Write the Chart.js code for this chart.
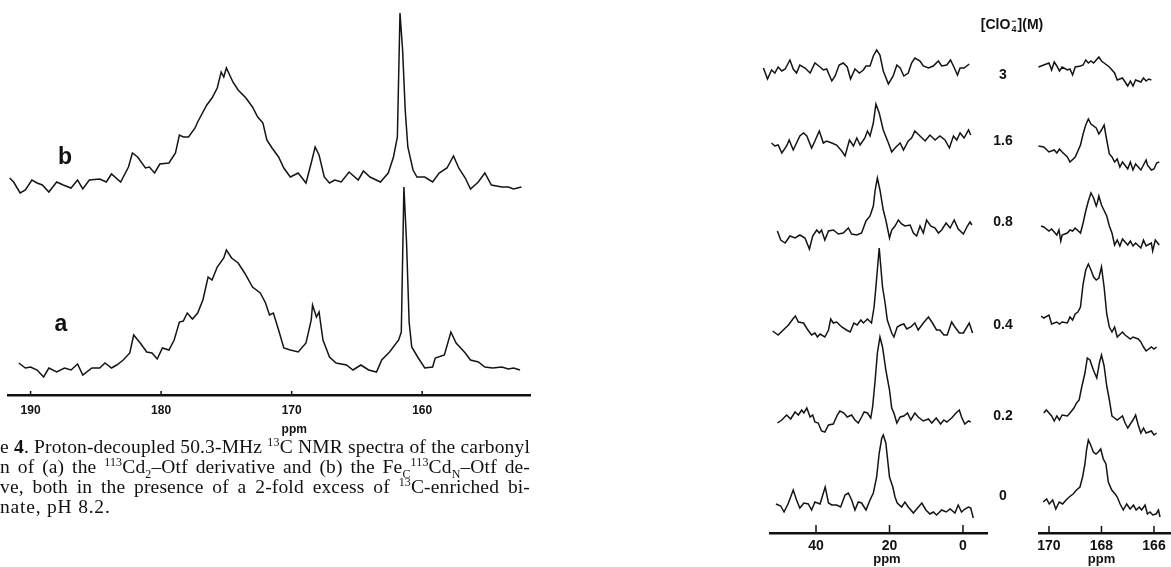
<!DOCTYPE html>
<html>
<head>
<meta charset="utf-8">
<title>13C NMR spectra</title>
<script src="https://cdn.jsdelivr.net/npm/chart.js@4.4.1/dist/chart.umd.min.js"></script>
<style>
  body { margin: 0; background: #fff; }
  #page { position: relative; width: 1171px; height: 567px; overflow: hidden; background: #fff; color: #111; }
  canvas { position: absolute; top: 0; }
  .tag { position: absolute; font: bold 23px "Liberation Sans", Arial, sans-serif; transform: translate(-50%, -50%); }
  .conc { position: absolute; font: bold 14px "Liberation Sans", Arial, sans-serif; transform: translate(-50%, -50%); white-space: nowrap; }
  .ion { display: inline-block; font-size: 9px; line-height: 8px; vertical-align: -3px; text-align: center; margin: 0 1px; }
  #caption { position: absolute; left: 0; top: 437px; width: 530px; font: 19.5px/20px "Liberation Serif", "Times New Roman", serif; letter-spacing: 0.15px; color: #111; }
  #caption div { text-align: justify; text-align-last: justify; white-space: nowrap; }
  #caption div.last { text-align-last: left; letter-spacing: 0.8px; }
  #caption sup, #caption sub { font-size: 12px; line-height: 0; }
</style>
</head>
<body>
<div id="page">
  <canvas id="leftChart" width="560" height="440" style="left:0px"></canvas>
  <canvas id="lowChart" width="260" height="567" style="left:740px"></canvas>
  <canvas id="highChart" width="151" height="567" style="left:1020px"></canvas>
  <div class="tag" style="left:65px; top:156px">b</div>
  <div class="tag" style="left:61px; top:323px">a</div>
  <div class="conc" style="left:1012px; top:24px">[ClO<span class="ion">&minus;<br>4</span>](M)</div>
  <div id="concLabels"></div>
  <div id="caption">
    <div>e <b>4</b>. Proton-decoupled 50.3-MHz <sup>13</sup>C NMR spectra of the carbonyl</div>
    <div>n of (a) the <sup>113</sup>Cd<sub>2</sub>&ndash;Otf derivative and (b) the Fe<sub>C</sub><sup>113</sup>Cd<sub>N</sub>&ndash;Otf de-</div>
    <div>ve, both in the presence of a 2-fold excess of <sup>13</sup>C-enriched bi-</div>
    <div class="last">nate, pH 8.2.</div>
  </div>
</div>
<script>
// --- Data: carbonyl region, ppm vs intensity ---
const leftTicks = [190, 180, 170, 160];

const leftPpmB = [191.6,191.3,190.8,190.4,189.9,189.5,189.1,188.6,188.0,187.5,186.9,186.4,186.0,185.5,184.7,184.2,183.8,183.1,182.5,182.2,181.8,181.2,180.9,180.5,180.1,179.4,178.9,178.6,178.3,177.9,177.4,177.2,176.5,176.1,175.7,175.4,175.2,175.0,174.5,174.1,173.5,173.0,172.6,172.2,171.9,171.5,171.0,170.6,170.1,169.5,168.9,168.5,168.2,167.9,167.5,167.1,166.7,166.2,165.6,164.9,164.5,164.0,163.2,162.6,162.2,161.9,161.7,161.5,161.3,161.1,160.7,160.4,159.8,159.2,158.7,158.1,157.6,157.2,156.7,156.3,155.7,155.2,154.7,153.9,153.4,153.0,152.4];
const leftIntB = [7,3,-8,-5,5,2,0,-7,3,0,-3,5,-4,5,6,3,11,3,18,32,28,17,18,12,21,22,32,50,48,48,57,63,80,87,97,113,108,117,103,95,87,78,68,62,45,37,28,17,8,12,2,22,38,30,8,2,5,3,13,5,14,8,3,12,28,48,172,135,75,38,15,8,8,3,12,17,29,17,7,-4,3,12,0,-2,-2,-4,-2];

const leftPpmA = [190.9,190.4,190.0,189.5,189.0,188.6,188.0,187.4,186.9,186.4,186.0,185.3,184.7,184.3,183.8,183.4,182.9,182.4,182.1,181.6,181.1,180.7,180.3,179.9,179.4,179.0,178.6,178.3,178.0,177.6,177.2,176.8,176.4,176.1,175.7,175.2,175.0,174.6,174.1,173.6,173.0,172.4,172.0,171.7,171.4,171.0,170.6,170.1,169.5,168.9,168.5,168.4,168.1,167.9,167.6,167.1,166.6,165.8,165.3,164.7,164.1,163.5,163.1,162.5,161.8,161.6,161.4,161.2,161.0,160.8,160.3,159.8,159.2,159.0,158.3,157.8,157.4,156.7,156.3,155.7,155.2,154.6,153.9,153.4,153.0,152.5];
const leftIntA = [4,-1,0,-3,-10,-1,-5,-1,-3,3,-8,-1,-1,4,-1,2,7,14,32,24,15,14,8,19,17,27,45,46,54,48,54,67,90,87,100,109,117,109,104,94,80,74,64,52,54,37,19,17,15,24,47,62,50,55,27,10,4,2,-3,2,-3,-5,7,15,27,35,180,125,45,20,9,-1,0,9,12,35,24,14,7,5,0,-1,0,-2,-1,-3];

// --- Data: perchlorate series, [ClO4-] in M ---
const concentrations = ['3', '1.6', '0.8', '0.4', '0.2', '0'];
const lowTicks = [40, 20, 0];
const highTicks = [170, 168, 166];

const lowPpm3 = [54.3,53.2,52.1,51.2,50.3,49.3,48.4,47.1,46.2,45.3,44.4,43.0,41.6,40.3,38.9,38.0,37.1,35.7,34.8,33.7,32.6,31.5,30.6,29.4,28.2,27.1,26.4,25.3,24.4,23.5,22.6,21.7,20.3,19.0,18.0,17.1,16.1,14.9,14.0,13.1,11.7,10.8,9.4,8.1,6.7,5.8,4.4,3.4,2.6,1.5,0.8,-0.3,-1.7];
const lowInt3 = [1,-10,-1,-4,2,-2,0,9,0,-4,4,1,-4,6,2,-1,0,-12,-7,4,6,2,-10,0,-4,-1,3,3,13,19,14,-2,-15,-7,4,1,-7,-4,6,11,8,3,1,3,8,3,4,9,3,-6,1,1,5];
const lowPpm16 = [52.1,51.2,50.3,49.3,48.0,47.3,46.2,45.3,44.4,43.4,42.5,41.2,40.3,39.1,38.0,37.1,35.7,34.4,33.0,32.1,30.9,29.8,28.9,28.0,26.7,26.0,25.3,24.4,23.7,22.8,21.7,20.3,19.4,18.5,17.1,16.2,14.9,14.0,13.1,11.7,10.3,9.0,7.6,6.3,4.9,3.7,2.6,1.7,0.8,-0.3,-1.5,-2.1];
const lowInt16 = [0,-3,-2,-10,-3,3,-7,0,7,10,7,-5,2,12,0,2,0,-2,-8,-13,3,-3,5,-2,5,12,7,20,39,30,13,0,-9,-5,0,-7,2,5,12,7,2,8,3,7,3,-5,7,3,10,5,13,8];
const lowPpm08 = [50.5,49.6,48.4,47.1,45.7,44.4,43.0,41.8,40.9,39.8,39.1,38.5,37.6,36.6,35.3,33.9,32.6,31.2,30.3,28.9,27.6,26.4,25.3,24.4,23.9,23.3,22.6,21.7,21.0,20.0,19.4,18.5,17.6,16.7,15.8,14.4,13.5,12.6,11.7,10.8,9.9,8.8,7.6,6.7,5.8,4.6,3.5,2.4,1.3,-0.1,-1.2,-1.9,-2.4];
const lowInt08 = [2,-7,-10,-3,-5,-2,-5,-16,-3,3,0,3,-7,2,3,-1,0,5,-1,-2,0,12,17,27,43,55,43,23,13,-5,3,7,13,9,7,8,0,-3,7,0,13,7,5,0,3,10,5,13,4,-1,7,11,8];
const lowPpm04 = [51.8,50.3,48.9,47.5,46.3,45.6,44.8,43.4,42.4,41.2,40.3,39.6,38.9,37.6,36.6,36.0,35.3,34.4,33.0,31.7,30.7,29.7,28.8,27.8,27.1,26.0,24.9,24.2,23.7,22.8,21.9,21.2,20.6,19.4,18.8,17.9,17.0,16.1,15.3,14.2,13.1,12.2,10.8,9.4,8.3,7.2,6.3,5.2,4.3,3.1,2.2,1.0,-0.1,-1.7,-2.6];
const lowInt04 = [-1,-5,0,5,11,14,8,7,1,-5,-3,-7,-4,-7,0,11,7,8,3,0,-2,7,5,10,7,11,7,23,43,82,43,27,10,-3,-7,3,5,6,1,3,7,0,7,13,7,0,0,-5,-5,8,3,-3,-3,7,-3];
const lowPpm02 = [50.5,49.3,48.0,46.9,45.7,44.8,43.9,43.3,42.5,41.6,40.9,40.3,39.4,38.5,37.6,36.6,35.3,34.2,33.5,32.4,31.5,30.3,29.4,28.5,27.6,26.9,26.0,25.1,24.6,23.9,23.3,22.6,21.9,21.0,20.0,19.4,18.8,18.0,17.1,16.1,15.1,14.2,13.1,12.2,10.8,9.4,8.5,7.3,6.1,5.2,4.4,3.1,1.9,1.0,0.4,-0.5,-1.5,-2.1];
const lowInt02 = [-3,0,5,1,8,5,10,7,12,3,5,-2,-3,-11,-12,-5,-4,5,9,7,3,5,0,-3,3,8,7,2,13,40,67,83,73,50,30,12,7,-3,3,4,7,0,7,3,-1,1,-3,2,-4,0,-2,2,7,10,3,-4,-1,-2];
const lowPpm0 = [50.9,49.6,48.7,47.5,46.2,45.3,44.4,43.3,42.1,41.2,40.3,38.9,38.0,37.5,36.6,35.7,34.4,33.3,32.1,31.2,30.3,29.4,28.5,27.6,26.4,25.3,24.4,23.5,22.8,22.1,21.7,21.0,20.0,19.1,18.5,17.9,16.7,15.8,14.9,13.5,12.6,11.2,10.1,9.0,8.1,7.2,5.8,4.6,3.5,2.2,1.3,0.4,-0.5,-1.5,-2.1,-2.8];
const lowInt0 = [1,-1,-7,2,15,5,-3,2,1,-5,3,1,12,18,2,0,0,-2,10,12,5,-5,3,2,-5,5,12,28,52,67,70,62,28,18,8,2,-2,3,-2,-8,-4,2,-5,-9,-7,-10,-5,-7,-4,-8,0,-7,-4,-2,-3,-13];

const highPpm3 = [170.4,170.2,170.0,169.9,169.8,169.7,169.6,169.5,169.3,169.2,169.1,169.0,168.8,168.7,168.6,168.5,168.4,168.3,168.2,168.1,168.0,167.9,167.7,167.5,167.4,167.2,167.0,166.9,166.8,166.7,166.5,166.4,166.3,166.2,166.1];
const highInt3 = [0,2,4,-3,5,1,-4,0,-3,-2,-8,0,1,2,7,4,6,4,7,10,6,4,0,-6,-13,-11,-19,-14,-19,-13,-15,-11,-14,-12,-13];
const highPpm16 = [170.4,170.2,170.0,169.8,169.7,169.6,169.5,169.3,169.2,169.0,168.8,168.7,168.6,168.5,168.4,168.2,168.1,168.0,167.9,167.8,167.7,167.6,167.5,167.4,167.3,167.2,167.0,166.9,166.8,166.7,166.5,166.3,166.25,166.1,166.0,165.9,165.8];
const highInt16 = [1,0,-5,-3,-6,-2,-5,-10,-15,-10,2,13,22,28,23,19,13,17,22,7,-7,-10,-15,-12,-20,-15,-22,-15,-23,-17,-23,-13,-18,-23,-22,-16,-15];
const highPpm08 = [170.3,170.2,170.0,169.9,169.7,169.62,169.55,169.5,169.3,169.2,169.1,169.0,168.8,168.7,168.6,168.5,168.4,168.3,168.2,168.16,168.1,168.0,167.8,167.7,167.6,167.5,167.4,167.3,167.2,167.0,166.9,166.8,166.7,166.5,166.4,166.3,166.1,166.05,165.95,165.8];
const highInt08 = [2,1,-3,-1,-7,-2,-13,-7,-5,-2,-3,0,-5,5,17,27,35,30,22,25,32,23,12,2,-5,-17,-12,-18,-11,-17,-13,-18,-15,-20,-12,-18,-15,-23,-12,-17];
const highPpm04 = [170.3,170.2,170.0,169.9,169.7,169.6,169.5,169.3,169.2,169.1,169.0,168.9,168.8,168.7,168.6,168.5,168.4,168.3,168.2,168.1,168.0,167.9,167.8,167.7,167.6,167.5,167.4,167.2,167.1,166.9,166.8,166.6,166.5,166.4,166.3,166.1,166.0,165.9];
const highInt04 = [1,-1,2,-7,-5,-7,-5,-6,0,-3,3,5,10,33,47,53,47,40,37,39,50,30,3,-10,-15,-10,-20,-15,-18,-22,-20,-22,-25,-30,-34,-30,-32,-30];
const highPpm02 = [170.2,170.1,169.9,169.8,169.7,169.6,169.5,169.3,169.2,169.05,168.95,168.85,168.76,168.63,168.54,168.44,168.31,168.18,168.08,168.0,167.9,167.8,167.7,167.6,167.5,167.4,167.2,167.1,167.0,166.8,166.7,166.6,166.5,166.4,166.3,166.1,166.0,165.9];
const highInt02 = [0,3,-3,-8,-3,-7,-2,-3,0,5,10,13,25,40,55,53,43,35,50,58,47,27,13,-3,-5,-7,-3,-10,-15,-7,-2,-12,-20,-15,-20,-18,-22,-20];
const highPpm0 = [170.22,170.09,169.99,169.86,169.74,169.61,169.48,169.35,169.23,169.08,168.95,168.82,168.72,168.63,168.57,168.50,168.41,168.31,168.21,168.12,168.03,167.93,167.83,167.74,167.61,167.48,167.40,167.29,167.17,167.04,166.91,166.78,166.68,166.56,166.47,166.34,166.25,166.15,166.05,165.92,165.83,165.77];
const highInt0 = [0,3,-2,2,-7,0,-2,2,5,8,12,15,25,38,52,62,57,50,48,50,53,43,38,20,12,8,5,-2,-8,-2,-7,-3,-8,-5,-8,-3,-12,-10,-13,-12,-8,-15];

// --- Layout: where each trace's baseline sits above its axis (px) ---
const leftOffsets = [210, 28];               // b, a
const lowOffsets = [464, 390, 300, 203, 113, 28];
const highOffsets = [466, 386, 305, 216, 120, 31];
const concLabelY = [74, 140, 221, 324, 415, 495];

// --- Axis plugin: inward tick marks and "ppm" under the axis ---
const ppmAxis = {
  id: 'ppmAxis',
  afterDraw(chart, args, opts) {
    const ctx = chart.ctx;
    const x = chart.scales.x;
    const y0 = chart.chartArea.bottom;
    ctx.save();
    ctx.strokeStyle = '#111';
    ctx.lineWidth = 1.5;
    x.ticks.forEach(t => {
      const px = x.getPixelForValue(t.value);
      ctx.beginPath();
      ctx.moveTo(px, y0);
      ctx.lineTo(px, y0 - opts.tickLen);
      ctx.stroke();
    });
    ctx.fillStyle = '#111';
    ctx.font = opts.font;
    ctx.textAlign = 'center';
    ctx.textBaseline = 'middle';
    ctx.fillText('ppm', x.getPixelForValue(opts.titleAt), opts.titleY);
    ctx.restore();
  }
};

function trace(ppm, intensity, offset) {
  return {
    data: ppm.map((p, i) => ({ x: p, y: intensity[i] + offset })),
    borderColor: '#141414',
    borderWidth: 1.5,
    pointRadius: 0,
    tension: 0,
    clip: false
  };
}

function spectrumChart(id, cfg) {
  return new Chart(document.getElementById(id), {
    type: 'line',
    data: { datasets: cfg.datasets },
    options: {
      responsive: false,
      animation: false,
      events: [],
      layout: { autoPadding: false, padding: { left: cfg.padLeft, right: cfg.padRight, top: 0, bottom: 0 } },
      plugins: {
        legend: { display: false },
        tooltip: { enabled: false },
        ppmAxis: { tickLen: cfg.tickLen, titleAt: cfg.titleAt, titleY: cfg.titleY, font: cfg.titleFont }
      },
      scales: {
        x: {
          type: 'linear',
          reverse: true,
          min: cfg.min,
          max: cfg.max,
          afterBuildTicks: s => { s.ticks = cfg.ticks.map(v => ({ value: v })); },
          afterFit: s => { s.height = cfg.axisHeight; },
          grid: { display: false, drawTicks: false },
          border: { display: true, color: '#111', width: cfg.axisWidth },
          ticks: {
            color: '#111',
            padding: cfg.tickPad,
            maxRotation: 0,
            autoSkip: false,
            font: { family: '"Liberation Sans", Arial, sans-serif', weight: 'bold', size: cfg.tickSize }
          }
        },
        y: { display: false, min: 0, max: cfg.height - cfg.axisHeight }
      }
    },
    plugins: [ppmAxis]
  });
}

spectrumChart('leftChart', {
  datasets: [trace(leftPpmB, leftIntB, leftOffsets[0]), trace(leftPpmA, leftIntA, leftOffsets[1])],
  padLeft: 8, padRight: 30, height: 440, axisHeight: 45, axisWidth: 2.5,
  min: 151.74, max: 191.73, ticks: leftTicks, tickSize: 12, tickPad: 8, tickLen: 4,
  titleAt: 169.8, titleY: 430, titleFont: 'bold 12px "Liberation Sans", Arial, sans-serif'
});

const lowPpm = [lowPpm3, lowPpm16, lowPpm08, lowPpm04, lowPpm02, lowPpm0];
const lowInt = [lowInt3, lowInt16, lowInt08, lowInt04, lowInt02, lowInt0];
spectrumChart('lowChart', {
  datasets: lowPpm.map((p, i) => trace(p, lowInt[i], lowOffsets[i])),
  padLeft: 30, padRight: 13, height: 567, axisHeight: 34, axisWidth: 2.5,
  min: -6.53, max: 52.52, ticks: lowTicks, tickSize: 14, tickPad: 5, tickLen: 8,
  titleAt: 20.7, titleY: 559, titleFont: 'bold 13px "Liberation Sans", Arial, sans-serif'
});

const highPpm = [highPpm3, highPpm16, highPpm08, highPpm04, highPpm02, highPpm0];
const highInt = [highInt3, highInt16, highInt08, highInt04, highInt02, highInt0];
spectrumChart('highChart', {
  datasets: highPpm.map((p, i) => trace(p, highInt[i], highOffsets[i])),
  padLeft: 19, padRight: 1, height: 567, axisHeight: 34, axisWidth: 2.5,
  min: 165.39, max: 170.38, ticks: highTicks, tickSize: 14, tickPad: 5, tickLen: 7,
  titleAt: 168, titleY: 559, titleFont: 'bold 13px "Liberation Sans", Arial, sans-serif'
});

// --- Concentration labels between the two right panels ---
const concBox = document.getElementById('concLabels');
concentrations.forEach((c, i) => {
  const div = document.createElement('div');
  div.className = 'conc';
  div.style.left = '1003px';
  div.style.top = concLabelY[i] + 'px';
  div.textContent = c;
  concBox.appendChild(div);
});
</script>
</body>
</html>
